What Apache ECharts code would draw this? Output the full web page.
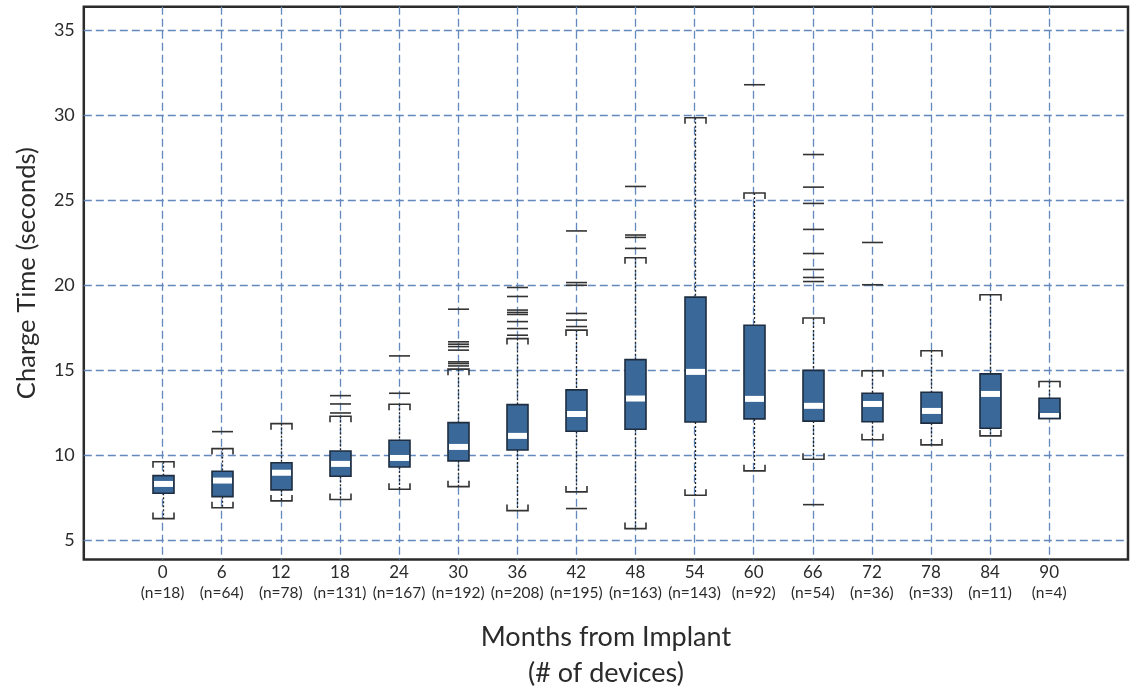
<!DOCTYPE html>
<html>
<head>
<meta charset="utf-8">
<script src="https://cdn.jsdelivr.net/npm/echarts@6/dist/echarts.min.js"></script>
<style>
  html, body { margin: 0; padding: 0; background: #fff; }
  #chart { width: 1136px; height: 689px; }
</style>
</head>
<body>
<div id="chart"></div>
<script>
// Months from implant (category positions) and device counts
const months = [0, 6, 12, 18, 24, 30, 36, 42, 48, 54, 60, 66, 72, 78, 84, 90];
const deviceCounts = [18, 64, 78, 131, 167, 192, 208, 195, 163, 143, 92, 54, 36, 33, 11, 4];

// Box statistics: [lower whisker, Q1, median, Q3, upper whisker]
const whiskerLow  = [6.26, 6.90, 7.30, 7.38, 7.99, 8.14, 6.73, 7.83, 5.67, 7.63, 9.07, 9.75, 10.90, 10.60, 11.13, 12.15];
const q1Values    = [7.75, 7.55, 7.95, 8.75, 9.30, 9.66, 10.30, 11.40, 11.52, 11.95, 12.13, 12.00, 11.96, 11.88, 11.58, 12.15];
const medianVals  = [8.30, 8.50, 8.96, 9.48, 9.83, 10.48, 11.13, 12.42, 13.33, 14.90, 13.31, 12.90, 13.01, 12.60, 13.60, 12.30];
const q3Values    = [8.79, 9.05, 9.55, 10.24, 10.87, 11.91, 12.97, 13.84, 15.62, 19.30, 17.65, 14.99, 13.64, 13.70, 14.78, 13.35];
const whiskerHigh = [9.61, 10.38, 11.85, 12.29, 12.99, 15.06, 16.86, 17.36, 21.62, 29.87, 25.43, 18.07, 14.97, 16.14, 19.44, 14.33];

// Outliers per month group
const outliers = [
  [],
  [11.38],
  [],
  [12.48, 13.01, 13.50],
  [13.64, 15.84],
  [15.25, 15.39, 15.49, 16.18, 16.39, 16.53, 16.67, 18.59],
  [17.06, 17.45, 17.86, 18.28, 18.40, 18.54, 19.34, 19.87],
  [6.85, 17.57, 17.95, 18.34, 20.00, 20.16, 23.20],
  [22.17, 22.82, 22.96, 25.82],
  [],
  [31.81],
  [7.08, 20.22, 20.46, 20.93, 21.87, 23.29, 24.82, 25.78, 27.70],
  [20.03, 22.52],
  [],
  [],
  []
];

// Axis tick values
const yTicks = [5, 10, 15, 20, 25, 30, 35];

const boxData = months.map((m, i) => [m, whiskerLow[i], q1Values[i], medianVals[i], q3Values[i], whiskerHigh[i]]);
const outlierData = [];
months.forEach((m, i) => outliers[i].forEach(v => outlierData.push([m, v])));

const FONT = 'Lato, "Open Sans", sans-serif';
const BOX_W = 21, HALF = BOX_W / 2, LEG = 6;

function renderBox(params, api) {
  const x = api.value(0);
  const lo = api.coord([x, api.value(1)]);
  const q1 = api.coord([x, api.value(2)]);
  const md = api.coord([x, api.value(3)]);
  const q3 = api.coord([x, api.value(4)]);
  const hi = api.coord([x, api.value(5)]);
  const cx = Math.round(lo[0]) + 0.5;
  const whiskerStyle = { stroke: '#222', lineWidth: 1.3, lineDash: [2, 2], fill: null };
  const capStyle = { stroke: '#333', lineWidth: 1.6, fill: null };
  const medTop = Math.max(md[1] - 3, q3[1] + 1);
  const medBot = Math.min(md[1] + 3, q1[1] - 1);
  return {
    type: 'group',
    children: [
      { type: 'line', shape: { x1: cx, y1: hi[1], x2: cx, y2: q3[1] }, style: whiskerStyle },
      { type: 'line', shape: { x1: cx, y1: q1[1], x2: cx, y2: lo[1] }, style: whiskerStyle },
      { type: 'polyline', shape: { points: [[cx - HALF, hi[1] + LEG], [cx - HALF, hi[1]], [cx + HALF, hi[1]], [cx + HALF, hi[1] + LEG]] }, style: capStyle },
      { type: 'polyline', shape: { points: [[cx - HALF, lo[1] - LEG], [cx - HALF, lo[1]], [cx + HALF, lo[1]], [cx + HALF, lo[1] - LEG]] }, style: capStyle },
      { type: 'rect', shape: { x: cx - HALF, y: q3[1], width: BOX_W, height: q1[1] - q3[1] },
        style: { fill: '#3a6899', stroke: '#1e2d40', lineWidth: 1.6 } },
      { type: 'rect', shape: { x: cx - HALF + 1, y: medTop, width: BOX_W - 2, height: Math.max(0, medBot - medTop) },
        style: { fill: '#ffffff' } }
    ]
  };
}

function renderOutlier(params, api) {
  const p = api.coord([api.value(0), api.value(1)]);
  const cx = Math.round(p[0]) + 0.5;
  return {
    type: 'line',
    shape: { x1: cx - HALF, y1: p[1], x2: cx + HALF, y2: p[1] },
    style: { stroke: '#333', lineWidth: 1.6 }
  };
}

const chart = echarts.init(document.getElementById('chart'), null, { renderer: 'canvas' });
chart.setOption({
  animation: false,
  backgroundColor: '#fff',
  grid: {
    left: 83.8, right: 8, top: 6.8, bottom: 129.5,
    show: true, borderColor: '#2b2b2b', borderWidth: 2.5, backgroundColor: 'transparent',
    containLabel: false, outerBoundsMode: 'none'
  },
  xAxis: {
    type: 'value',
    min: -8, max: 98,
    name: 'Months from Implant\n(# of devices)',
    nameLocation: 'middle',
    nameGap: 60,
    nameTextStyle: { fontFamily: FONT, fontSize: 27, color: '#2b2b2b', lineHeight: 36 },
    axisLine: { show: false },
    axisTick: { show: false, customValues: months },
    splitLine: { show: true, lineStyle: { color: '#6288bd', width: 1.3, type: [8, 4] } },
    axisLabel: {
      customValues: months,
      margin: 4,
      formatter: function (v) {
        const i = months.indexOf(v);
        return '{a|' + v + '}\n{b|(n=' + deviceCounts[i] + ')}';
      },
      rich: {
        a: { fontFamily: FONT, fontSize: 17, lineHeight: 19, color: '#2b2b2b' },
        b: { fontFamily: FONT, fontSize: 15.5, lineHeight: 20, color: '#2b2b2b' }
      }
    }
  },
  yAxis: {
    type: 'value',
    min: 3.85, max: 36.4,
    name: 'Charge Time (seconds)',
    nameLocation: 'middle',
    nameGap: 44,
    nameTextStyle: { fontFamily: FONT, fontSize: 25.6, color: '#2b2b2b', padding: [0, 0, 0, 20] },
    axisLine: { show: false },
    axisTick: { show: false, customValues: yTicks },
    splitLine: { show: true, lineStyle: { color: '#6288bd', width: 1.3, type: [8, 4] } },
    axisLabel: {
      customValues: yTicks,
      margin: 9,
      fontFamily: FONT, fontSize: 18, color: '#2b2b2b'
    }
  },
  series: [
    {
      type: 'custom',
      renderItem: renderBox,
      data: boxData,
      encode: { x: 0, y: [1, 2, 3, 4, 5] },
      z: 3
    },
    {
      type: 'custom',
      renderItem: renderOutlier,
      data: outlierData,
      encode: { x: 0, y: 1 },
      z: 4
    }
  ]
});
</script>
</body>
</html>
